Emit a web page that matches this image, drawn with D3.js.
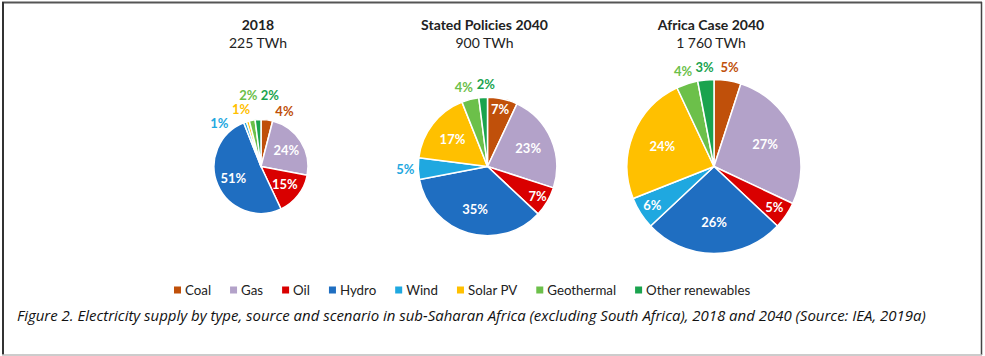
<!DOCTYPE html>
<html>
<head>
<meta charset="utf-8">
<script src="https://cdn.jsdelivr.net/npm/d3@7/dist/d3.min.js"></script>
<style>
  html, body { margin: 0; padding: 0; background: #fff; }
  svg { display: block; }
</style>
</head>
<body>
<svg id="chart" width="985" height="356"></svg>
<script>
// ---------------- data ----------------
const categories = ["Coal", "Gas", "Oil", "Hydro", "Wind", "Solar PV", "Geothermal", "Other renewables"];
const scenarios = ["2018", "Stated Policies 2040", "Africa Case 2040"];
const totalsLabel = ["225 TWh", "900 TWh", "1 760 TWh"];
const totalsTWh = [225, 900, 1760];
const shares2018 = [4, 24, 15, 51, 1, 1, 2, 2];
const sharesStated2040 = [7, 23, 7, 35, 5, 17, 4, 2];
const sharesAfrica2040 = [5, 27, 5, 26, 6, 24, 4, 3];
// which slice labels sit outside the pie (as in the picture)
const outside2018 = ["Coal", "Wind", "Solar PV", "Geothermal", "Other renewables"];
const outsideStated2040 = ["Wind", "Geothermal", "Other renewables"];
const outsideAfrica2040 = ["Coal", "Geothermal", "Other renewables"];
const caption = "Figure 2. Electricity supply by type, source and scenario in sub-Saharan Africa (excluding South Africa), 2018 and 2040 (Source: IEA, 2019a)";

const seriesShares = [shares2018, sharesStated2040, sharesAfrica2040];
const seriesOutside = [outside2018, outsideStated2040, outsideAfrica2040];

// ---------------- styles ----------------
const colors = ["#C0500A", "#B3A2C9", "#D90000", "#1F6EC1", "#1FA8E0", "#FFC000", "#6CC04A", "#1AA34E"];
const FONT = "Lato, 'Open Sans', sans-serif";

const svg = d3.select("#chart");

// frame
svg.append("line").attr("x1", 2).attr("x2", 982).attr("y1", 2.5).attr("y2", 2.5).attr("stroke", "#555").attr("stroke-width", 2);
svg.append("line").attr("x1", 3).attr("x2", 3).attr("y1", 2).attr("y2", 355).attr("stroke", "#333").attr("stroke-width", 2);
svg.append("line").attr("x1", 981.5).attr("x2", 981.5).attr("y1", 2).attr("y2", 355).attr("stroke", "#444").attr("stroke-width", 1.5);
svg.append("line").attr("x1", 2).attr("x2", 982).attr("y1", 355).attr("y2", 355).attr("stroke", "#bbb").attr("stroke-width", 1.5);

const color = d3.scaleOrdinal().domain(categories).range(colors);
const xPanel = d3.scalePoint().domain(scenarios).range([261, 714]);
const rScale = d3.scaleSqrt().domain([225, 1760]).range([47, 87]);
const cy = 166.5;

const pie = d3.pie().sort(null).value(d => d.value);

function measure(txt, size, weight) {
  const t = svg.append("text").attr("font-family", FONT).attr("font-size", size).attr("font-weight", weight).text(txt);
  const w = t.node().getComputedTextLength();
  t.remove();
  return w;
}

scenarios.forEach((sc, i) => {
  const cx = xPanel(sc);
  const r = rScale(totalsTWh[i]);
  const data = categories.map((c, k) => ({ cat: c, value: seriesShares[i][k] }));
  const arcs = pie(data);
  const g = svg.append("g").attr("transform", `translate(${cx},${cy})`);

  // titles
  svg.append("text").attr("x", cx - 3).attr("y", 25).attr("text-anchor", "middle").attr("dy", "0.35em")
    .attr("font-family", FONT).attr("font-weight", "bold").attr("font-size", 14).attr("fill", "#222").text(sc);
  svg.append("text").attr("x", cx - 3).attr("y", 43).attr("text-anchor", "middle").attr("dy", "0.35em")
    .attr("font-family", FONT).attr("font-size", 14).attr("fill", "#222").text(totalsLabel[i]);

  const arc = d3.arc().innerRadius(0).outerRadius(r);
  g.selectAll("path").data(arcs).join("path")
    .attr("d", arc)
    .attr("fill", d => color(d.data.cat))
    .attr("stroke", "#fff").attr("stroke-width", 1.5).attr("stroke-linejoin", "round");

  // labels
  const LS = 13;
  const labels = arcs.map(a => {
    const mid = (a.startAngle + a.endAngle) / 2;
    const txt = a.data.value + "%";
    const out = seriesOutside[i].includes(a.data.cat);
    return { a, txt, out, ang: mid > Math.PI ? mid - 2 * Math.PI : mid, w: measure(txt, LS, "bold"), R: r + 13 };
  });
  // inside labels
  labels.filter(l => !l.out).forEach(l => {
    const f = l.a.data.value < 10 ? 0.84 : 0.64;
    const mid = (l.a.startAngle + l.a.endAngle) / 2;
    l.x = Math.sin(mid) * r * f;
    l.y = -Math.cos(mid) * r * f;
  });
  // outside labels: relax along the arc, and let crowded inner labels move outward
  const outs = labels.filter(l => l.out).sort((p, q) => p.ang - q.ang);
  const pos = l => [Math.sin(l.ang) * l.R, -Math.cos(l.ang) * l.R];
  for (let it = 0; it < 600; it++) {
    let moved = false;
    for (let j = 1; j < outs.length; j++) {
      const p = outs[j - 1], q = outs[j];
      const [px, py] = pos(p), [qx, qy] = pos(q);
      const needX = (p.w + q.w) / 2 + 3, needY = LS + 1;
      if (Math.abs(px - qx) < needX && Math.abs(py - qy) < needY) {
        p.ang -= 0.006; q.ang += 0.006; moved = true;
        // labels squeezed from both sides drift outward
        if (j > 1 && j < outs.length - 1) { q.R += 0.15; }
      }
    }
    if (!moved) break;
  }
  outs.forEach(l => { const [x, y] = pos(l); l.x = x; l.y = y; });

  g.selectAll("text.lab").data(labels).join("text")
    .attr("class", "lab")
    .attr("x", d => d.x).attr("y", d => d.y).attr("dy", "0.35em")
    .attr("text-anchor", "middle")
    .attr("font-family", FONT).attr("font-weight", "bold").attr("font-size", LS)
    .attr("fill", d => d.out ? color(d.a.data.cat) : "#fff")
    .text(d => d.txt);
});

// legend
const LEGF = 13.3;
let lx = 174;
const ly = 290;
const leg = svg.append("g");
categories.forEach(c => {
  leg.append("rect").attr("x", lx).attr("y", ly - 3.5).attr("width", 7).attr("height", 7).attr("fill", color(c));
  const t = leg.append("text").attr("x", lx + 11).attr("y", ly).attr("dy", "0.35em")
    .attr("font-family", FONT).attr("font-size", LEGF).attr("fill", "#222").text(c);
  lx += 11 + t.node().getComputedTextLength() + 19;
});

// caption, fitted to its width in the picture
const cap = svg.append("text").attr("x", 17).attr("y", 316).attr("dy", "0.35em")
  .attr("font-family", "'Open Sans', sans-serif").attr("font-style", "italic").attr("font-size", 13).attr("fill", "#111").text(caption);
const cw = cap.node().getComputedTextLength();
cap.attr("font-size", 13 * 910 / cw);
</script>
</body>
</html>
